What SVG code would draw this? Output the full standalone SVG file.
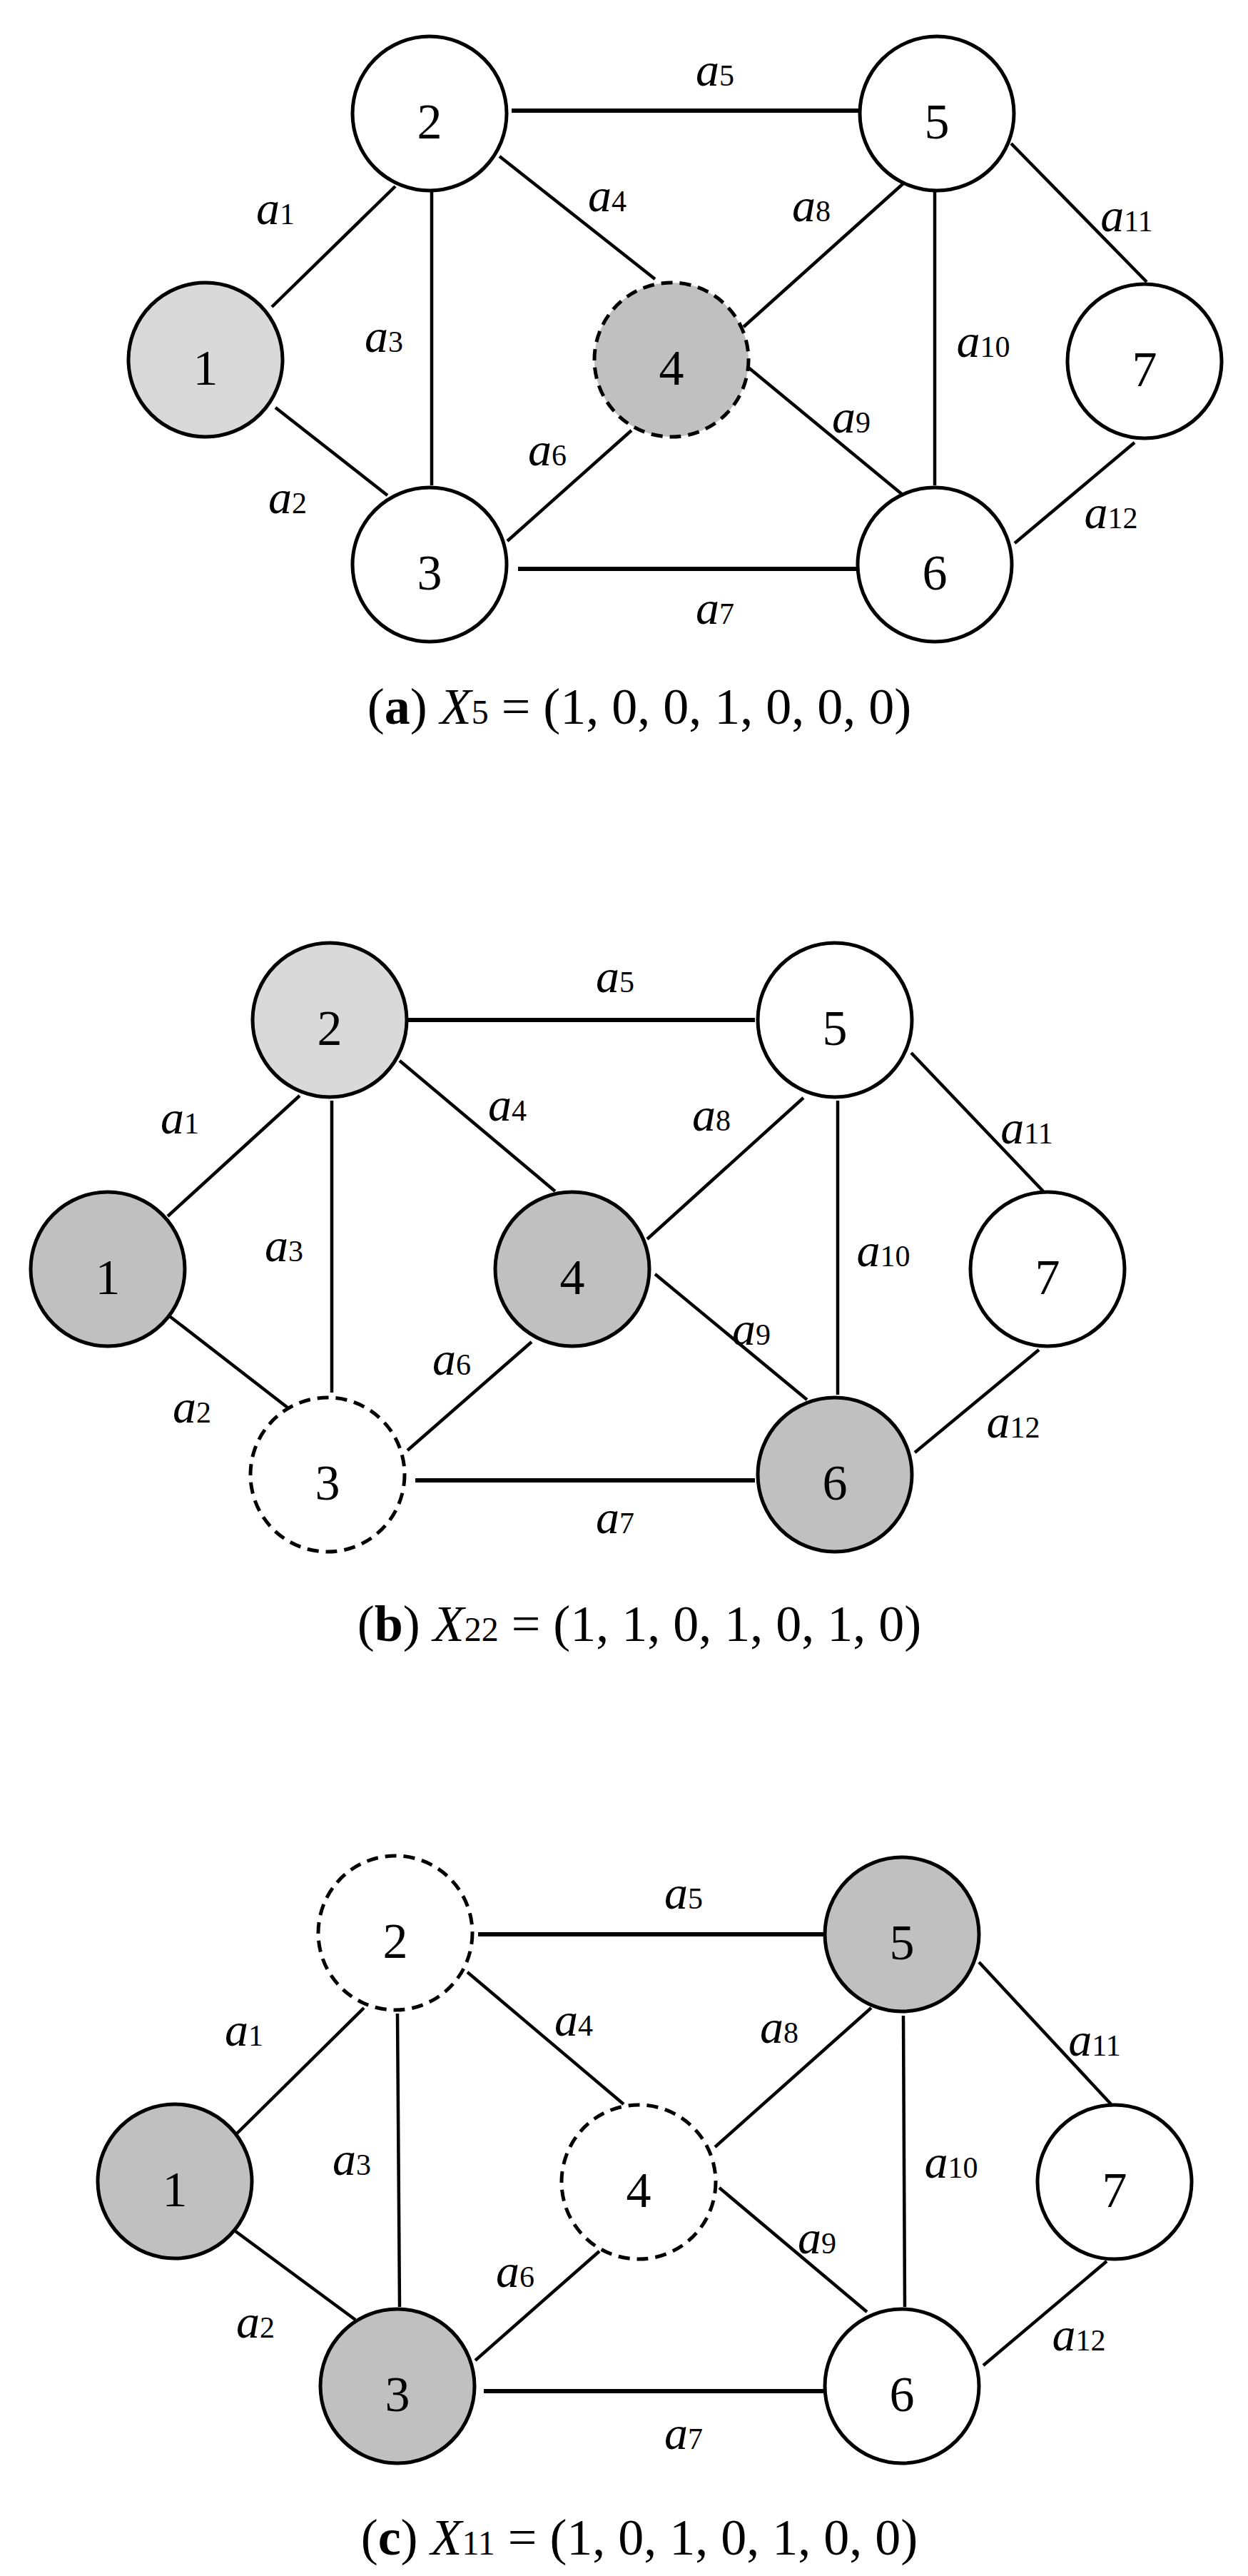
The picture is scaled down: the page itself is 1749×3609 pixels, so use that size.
<svg xmlns="http://www.w3.org/2000/svg" width="1749" height="3609" viewBox="0 0 1749 3609">
<style>
.e{stroke:#000;stroke-width:4.5;fill:none}
.h{stroke-width:6}
.n{stroke:#000;stroke-width:5}
.w{fill:#fff}.l{fill:#d9d9d9}.g{fill:#c0c0c0}
.d{stroke-dasharray:16 10}
.t{font-family:"Liberation Serif",serif;font-size:70px;text-anchor:middle}
.a{font-family:"Liberation Serif",serif;font-size:66px;font-style:italic;text-anchor:middle}
.a tspan{font-style:normal;font-size:42px}
.c{font-family:"Liberation Serif",serif;font-size:72px;text-anchor:middle}
.c tspan.s{font-size:48px}
</style>
<rect width="1749" height="3609" fill="#fff"/>
<!-- Panel a -->
<g id="edges-a">
<line class="e" x1="381" y1="430" x2="554" y2="261"/>
<line class="e" x1="386" y1="571" x2="543" y2="694"/>
<line class="e" x1="605" y1="268" x2="605" y2="680"/>
<line class="e" x1="700" y1="219" x2="918" y2="391"/>
<line class="e h" x1="717" y1="155" x2="1204" y2="155"/>
<line class="e" x1="711" y1="758" x2="885" y2="603"/>
<line class="e h" x1="726" y1="797" x2="1204" y2="797"/>
<line class="e" x1="1042" y1="458" x2="1266" y2="257"/>
<line class="e" x1="1049" y1="515" x2="1266" y2="694"/>
<line class="e" x1="1310" y1="268" x2="1310" y2="680"/>
<line class="e" x1="1417" y1="201" x2="1607" y2="395"/>
<line class="e" x1="1422" y1="761" x2="1590" y2="620"/>
</g>
<g id="a-n1"><circle class="n l" cx="288" cy="504" r="108"/><text class="t" x="288" y="539">1</text></g>
<g id="a-n2"><circle class="n w" cx="602" cy="159" r="108"/><text class="t" x="602" y="194">2</text></g>
<g id="a-n3"><circle class="n w" cx="602" cy="791" r="108"/><text class="t" x="602" y="826">3</text></g>
<g id="a-n4"><circle class="n g d" cx="941" cy="504" r="108"/><text class="t" x="941" y="539">4</text></g>
<g id="a-n5"><circle class="n w" cx="1313" cy="159" r="108"/><text class="t" x="1313" y="194">5</text></g>
<g id="a-n6"><circle class="n w" cx="1310" cy="791" r="108"/><text class="t" x="1310" y="826">6</text></g>
<g id="a-n7"><circle class="n w" cx="1604" cy="506" r="108"/><text class="t" x="1604" y="541">7</text></g>
<g id="labels-a">
<text class="a" x="386" y="314">a<tspan>1</tspan></text>
<text class="a" x="403" y="719">a<tspan>2</tspan></text>
<text class="a" x="538" y="493">a<tspan>3</tspan></text>
<text class="a" x="851" y="296">a<tspan>4</tspan></text>
<text class="a" x="1002" y="120">a<tspan>5</tspan></text>
<text class="a" x="767" y="652">a<tspan>6</tspan></text>
<text class="a" x="1002" y="874">a<tspan>7</tspan></text>
<text class="a" x="1137" y="310">a<tspan>8</tspan></text>
<text class="a" x="1193" y="606">a<tspan>9</tspan></text>
<text class="a" x="1378" y="500">a<tspan>10</tspan></text>
<text class="a" x="1579" y="324">a<tspan>11</tspan></text>
<text class="a" x="1557" y="740">a<tspan>12</tspan></text>
<text class="c" x="896" y="1014">(<tspan font-weight="bold">a</tspan>) <tspan font-style="italic">X</tspan><tspan class="s">5</tspan> = (1, 0, 0, 1, 0, 0, 0)</text>
</g>
<!-- Panel b -->
<g id="edges-b">
<line class="e" x1="235" y1="1704" x2="420" y2="1535"/>
<line class="e" x1="235" y1="1842" x2="403" y2="1972"/>
<line class="e" x1="465" y1="1542" x2="465" y2="1951"/>
<line class="e" x1="560" y1="1486" x2="778" y2="1669"/>
<line class="e h" x1="571" y1="1429" x2="1058" y2="1429"/>
<line class="e" x1="571" y1="2032" x2="745" y2="1880"/>
<line class="e h" x1="582" y1="2074" x2="1058" y2="2074"/>
<line class="e" x1="907" y1="1736" x2="1126" y2="1538"/>
<line class="e" x1="918" y1="1785" x2="1131" y2="1961"/>
<line class="e" x1="1174" y1="1542" x2="1174" y2="1954"/>
<line class="e" x1="1277" y1="1475" x2="1462" y2="1669"/>
<line class="e" x1="1282" y1="2035" x2="1456" y2="1891"/>
</g>
<g id="b-n1"><circle class="n g" cx="151" cy="1778" r="108"/><text class="t" x="151" y="1813">1</text></g>
<g id="b-n2"><circle class="n l" cx="462" cy="1429" r="108"/><text class="t" x="462" y="1464">2</text></g>
<g id="b-n3"><circle class="n w d" cx="459" cy="2066" r="108"/><text class="t" x="459" y="2101">3</text></g>
<g id="b-n4"><circle class="n g" cx="802" cy="1778" r="108"/><text class="t" x="802" y="1813">4</text></g>
<g id="b-n5"><circle class="n w" cx="1170" cy="1429" r="108"/><text class="t" x="1170" y="1464">5</text></g>
<g id="b-n6"><circle class="n g" cx="1170" cy="2066" r="108"/><text class="t" x="1170" y="2101">6</text></g>
<g id="b-n7"><circle class="n w" cx="1468" cy="1778" r="108"/><text class="t" x="1468" y="1813">7</text></g>
<g id="labels-b">
<text class="a" x="252" y="1588">a<tspan>1</tspan></text>
<text class="a" x="269" y="1993">a<tspan>2</tspan></text>
<text class="a" x="398" y="1767">a<tspan>3</tspan></text>
<text class="a" x="711" y="1570">a<tspan>4</tspan></text>
<text class="a" x="862" y="1390">a<tspan>5</tspan></text>
<text class="a" x="633" y="1926">a<tspan>6</tspan></text>
<text class="a" x="862" y="2148">a<tspan>7</tspan></text>
<text class="a" x="997" y="1584">a<tspan>8</tspan></text>
<text class="a" x="1053" y="1884">a<tspan>9</tspan></text>
<text class="a" x="1238" y="1774">a<tspan>10</tspan></text>
<text class="a" x="1439" y="1602">a<tspan>11</tspan></text>
<text class="a" x="1420" y="2014">a<tspan>12</tspan></text>
<text class="c" x="896" y="2299">(<tspan font-weight="bold">b</tspan>) <tspan font-style="italic">X</tspan><tspan class="s">22</tspan> = (1, 1, 0, 1, 0, 1, 0)</text>
</g>
<!-- Panel c -->
<g id="edges-c">
<line class="e" x1="330" y1="2991" x2="510" y2="2813"/>
<line class="e" x1="330" y1="3126" x2="498" y2="3250"/>
<line class="e" x1="557" y1="2821" x2="560" y2="3232"/>
<line class="e" x1="655" y1="2763" x2="874" y2="2948"/>
<line class="e h" x1="670" y1="2710" x2="1154" y2="2710"/>
<line class="e" x1="666" y1="3307" x2="840" y2="3154"/>
<line class="e h" x1="678" y1="3350" x2="1154" y2="3350"/>
<line class="e" x1="1002" y1="3008" x2="1221" y2="2813"/>
<line class="e" x1="1008" y1="3065" x2="1215" y2="3239"/>
<line class="e" x1="1266" y1="2824" x2="1268" y2="3232"/>
<line class="e" x1="1372" y1="2749" x2="1557" y2="2948"/>
<line class="e" x1="1378" y1="3314" x2="1551" y2="3168"/>
</g>
<g id="c-n1"><circle class="n g" cx="245" cy="3056" r="108"/><text class="t" x="245" y="3091">1</text></g>
<g id="c-n2"><circle class="n w d" cx="554" cy="2708" r="108"/><text class="t" x="554" y="2743">2</text></g>
<g id="c-n3"><circle class="n g" cx="557" cy="3343" r="108"/><text class="t" x="557" y="3378">3</text></g>
<g id="c-n4"><circle class="n w d" cx="895" cy="3057" r="108"/><text class="t" x="895" y="3092">4</text></g>
<g id="c-n5"><circle class="n g" cx="1264" cy="2710" r="108"/><text class="t" x="1264" y="2745">5</text></g>
<g id="c-n6"><circle class="n w" cx="1264" cy="3343" r="108"/><text class="t" x="1264" y="3378">6</text></g>
<g id="c-n7"><circle class="n w" cx="1562" cy="3057" r="108"/><text class="t" x="1562" y="3092">7</text></g>
<g id="labels-c">
<text class="a" x="342" y="2866">a<tspan>1</tspan></text>
<text class="a" x="358" y="3275">a<tspan>2</tspan></text>
<text class="a" x="493" y="3047">a<tspan>3</tspan></text>
<text class="a" x="804" y="2852">a<tspan>4</tspan></text>
<text class="a" x="958" y="2674">a<tspan>5</tspan></text>
<text class="a" x="722" y="3204">a<tspan>6</tspan></text>
<text class="a" x="958" y="3431">a<tspan>7</tspan></text>
<text class="a" x="1092" y="2862">a<tspan>8</tspan></text>
<text class="a" x="1145" y="3157">a<tspan>9</tspan></text>
<text class="a" x="1333" y="3051">a<tspan>10</tspan></text>
<text class="a" x="1534" y="2880">a<tspan>11</tspan></text>
<text class="a" x="1512" y="3293">a<tspan>12</tspan></text>
<text class="c" x="896" y="3579">(<tspan font-weight="bold">c</tspan>) <tspan font-style="italic">X</tspan><tspan class="s">11</tspan> = (1, 0, 1, 0, 1, 0, 0)</text>
</g>
</svg>
